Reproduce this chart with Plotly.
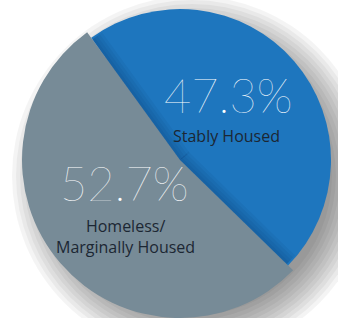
import math
import plotly.graph_objects as go

labels = ["Stably Housed", "Homeless/<br>Marginally Housed"]
values = [47.3, 52.7]
pct_text = ["47.3%", "52.7%"]
colors = ["#1E76BE", "#778B97"]

W, H = 338, 318
ROT = -36
CX, CY = 180, 160          # pie centre (px from top-left)
R_BLUE, R_GREY = 151, 158

def px_x(x):
    return x / W

def px_y(y):
    return (H - y) / H

fig = go.Figure()

shapes = []
# soft drop shadow behind the pie
sx, sy = 192, 176
for r in range(140, 184, 4):
    shapes.append(dict(type="circle", xref="paper", yref="paper", layer="below",
                       x0=px_x(sx - r), x1=px_x(sx + r),
                       y0=px_y(sy + r), y1=px_y(sy - r),
                       fillcolor="rgba(0,0,0,0.045)", line=dict(width=0)))

# grey slice (slightly larger radius)
fig.add_trace(go.Pie(
    labels=labels, values=values, sort=False, direction="clockwise", rotation=ROT,
    marker=dict(colors=["rgba(0,0,0,0)", colors[1]], line=dict(width=0)),
    textinfo="none", hoverinfo="label+percent", showlegend=False,
    domain=dict(x=[px_x(CX - R_GREY), px_x(CX + R_GREY)],
                y=[px_y(CY + R_GREY), px_y(CY - R_GREY)]),
))
# blue slice
fig.add_trace(go.Pie(
    labels=labels, values=values, sort=False, direction="clockwise", rotation=ROT,
    marker=dict(colors=[colors[0], "rgba(0,0,0,0)"], line=dict(width=0)),
    textinfo="none", hoverinfo="label+percent", showlegend=False,
    domain=dict(x=[px_x(CX - R_BLUE), px_x(CX + R_BLUE)],
                y=[px_y(CY + R_BLUE), px_y(CY - R_BLUE)]),
))

# inner shading on the blue slice along the cut edges
def u(deg):
    t = math.radians(deg)
    return math.sin(t), -math.cos(t)

a1 = ROT
a2 = ROT + 360 * values[0] / sum(values)
rr = R_BLUE - 2
for w in (3, 6, 9, 12):
    for a, side in ((a1, 90), (a2, -90)):
        ux, uy = u(a)
        nx, ny = u(a + side)
        pts = [(CX, CY), (CX + rr * ux, CY + rr * uy),
               (CX + rr * ux + w * nx, CY + rr * uy + w * ny),
               (CX + w * nx, CY + w * ny)]
        path = "M " + " L ".join(f"{px_x(x):.5f},{px_y(y):.5f}" for x, y in pts) + " Z"
        shapes.append(dict(type="path", xref="paper", yref="paper", layer="above",
                           path=path, fillcolor="rgba(0,20,50,0.05)", line=dict(width=0)))

ann = []
pos_pct = [(228, 95), (124, 183)]
pos_lab = [(226, 136), (125, 236)]
for i in range(2):
    px, py = pos_pct[i]
    ann.append(dict(text=pct_text[i], x=px_x(px), y=px_y(py), xref="paper", yref="paper",
                    showarrow=False, xanchor="center", yanchor="middle",
                    height=40, valign="middle",
                    font=dict(family="Lato", size=47, color="white", weight=200)))
    lx, ly = pos_lab[i]
    ann.append(dict(text=labels[i], x=px_x(lx), y=px_y(ly), xref="paper", yref="paper",
                    showarrow=False, xanchor="center", yanchor="middle",
                    font=dict(family="Open Sans", size=16, color="#1c2733"),
                    align="center"))

fig.update_layout(width=W, height=H, margin=dict(l=0, r=0, t=0, b=0),
                  paper_bgcolor="white", plot_bgcolor="white",
                  shapes=shapes, annotations=ann)

fig.write_html("out.html", config={"displayModeBar": False},
               post_script="document.body.style.margin='0';document.body.style.overflow='hidden';")
